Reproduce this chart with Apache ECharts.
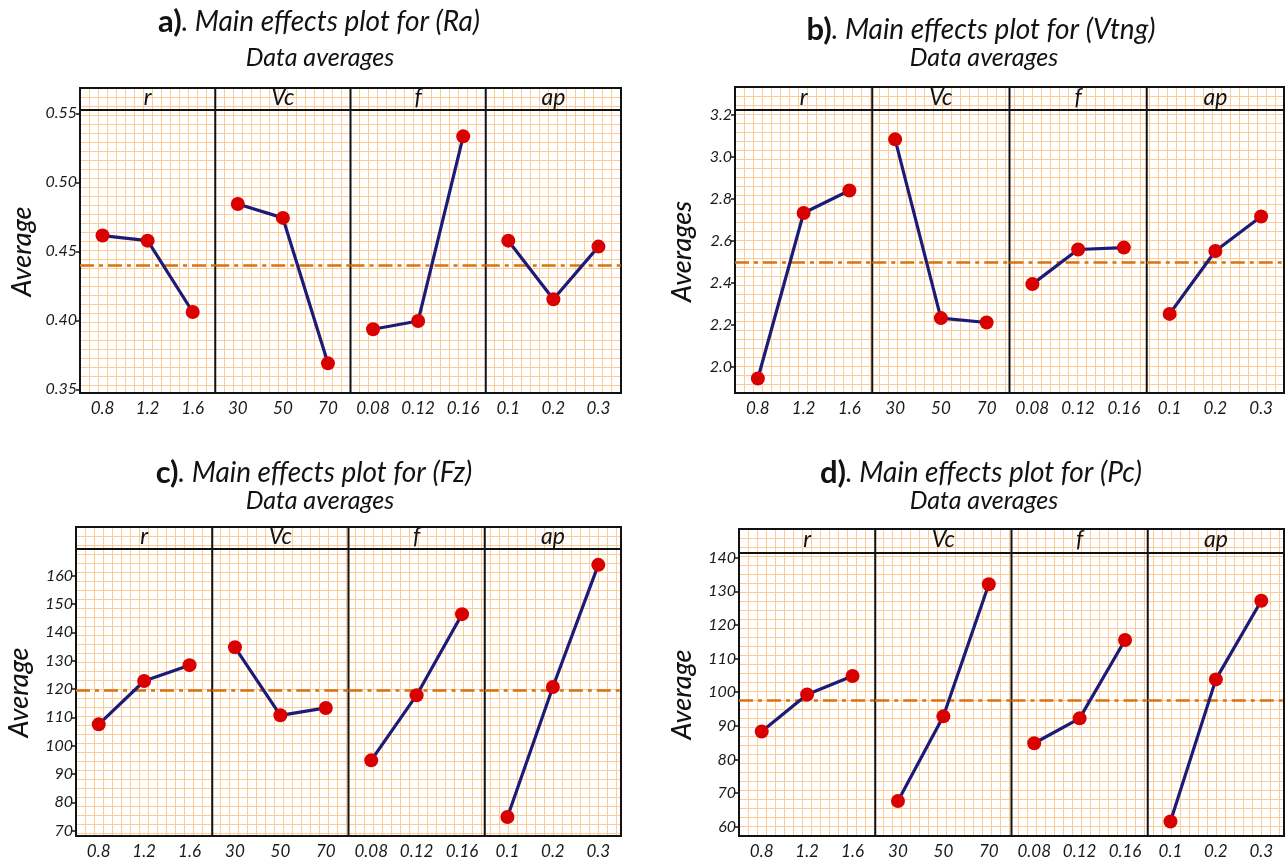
<!DOCTYPE html>
<html>
<head>
<meta charset="utf-8">
<script src="https://cdn.jsdelivr.net/npm/echarts@6/dist/echarts.min.js"></script>
<style>
  html, body { margin: 0; padding: 0; background: #ffffff; }
  #chart { width: 1287px; height: 861px; }
</style>
</head>
<body>
<div id="chart"></div>
<script>
// ---- data -------------------------------------------------------------
const factorNames = ['r', 'Vc', 'f', 'ap'];
const rLevels  = ['0.8', '1.2', '1.6'];
const vcLevels = ['30', '50', '70'];
const fLevels  = ['0.08', '0.12', '0.16'];
const apLevels = ['0.1', '0.2', '0.3'];

// level averages, three per factor in the order r, Vc, f, ap
const raAverages   = [0.4614, 0.4577, 0.4060, 0.4843, 0.4742, 0.3688, 0.3935, 0.3995, 0.5333, 0.4577, 0.4152, 0.4534];
const vtngAverages = [1.944, 2.733, 2.840, 3.084, 2.232, 2.211, 2.394, 2.559, 2.568, 2.252, 2.552, 2.716];
const fzAverages   = [107.5, 122.8, 128.4, 134.7, 110.7, 113.3, 94.8, 117.8, 146.4, 74.8, 120.7, 163.8];
const pcAverages   = [88.3, 99.3, 104.8, 67.6, 92.8, 132.1, 84.8, 92.2, 115.5, 61.5, 103.8, 127.2];

// grand means (reference lines)
const raMean = 0.4418;
const vtngMean = 2.505;
const fzMean = 119.7;
const pcMean = 97.5;

// y tick labels
const raTicks   = [0.35, 0.40, 0.45, 0.50, 0.55];
const vtngTicks = [2.0, 2.2, 2.4, 2.6, 2.8, 3.0, 3.2];
const fzTicks   = [70, 80, 90, 100, 110, 120, 130, 140, 150, 160];
const pcTicks   = [60, 70, 80, 90, 100, 110, 120, 130, 140];

const levelSets = [rLevels, vcLevels, fLevels, apLevels];

// ---- layout & style ---------------------------------------------------
const FONT = 'Lato, "Open Sans", sans-serif';
const INK = '#121212';
const PAPER_LINE = '#fbcb98';
const CELL = 9;
const LINE_COLOR = '#1c1c78';
const DOT_COLOR = '#d90000';
const MEAN_COLOR = '#d9720c';

const panels = [
  { tag: 'a)', response: 'Ra',   yName: 'Average',  values: raAverages,   mean: raMean,   ticks: raTicks,   dec: 2,
    left: 80,  right: 621,  hTop: 88,  hBot: 110, bottom: 393, yMin: 0.3473, yMax: 0.5524, nameGap: 44,
    titleX: 319, titleY: 22, subX: 320, subY: 58 },
  { tag: 'b)', response: 'Vtng', yName: 'Averages', values: vtngAverages, mean: vtngMean, ticks: vtngTicks, dec: 1,
    left: 735, right: 1284, hTop: 87,  hBot: 110, bottom: 393, yMin: 1.875, yMax: 3.224, nameGap: 39,
    titleX: 981, titleY: 30, subX: 984, subY: 58 },
  { tag: 'c)', response: 'Fz',   yName: 'Average',  values: fzAverages,   mean: fzMean,   ticks: fzTicks,   dec: 0,
    left: 76,  right: 621,  hTop: 527, hBot: 549, bottom: 836, yMin: 68.1, yMax: 169.4, nameGap: 43,
    titleX: 314, titleY: 473, subX: 320, subY: 501 },
  { tag: 'd)', response: 'Pc',   yName: 'Average',  values: pcAverages,   mean: pcMean,   ticks: pcTicks,   dec: 0,
    left: 739, right: 1284, hTop: 529, hBot: 553, bottom: 836, yMin: 57.2, yMax: 141.4, nameGap: 43,
    titleX: 981, titleY: 473, subX: 984, subY: 501 }
];

const grids = [], xAxes = [], yAxes = [], series = [], titles = [], graphics = [];

panels.forEach(function (p) {
  const width = p.right - p.left;
  const facetW = width / 4;

  // graph-paper background covering plot and strip
  const bgIndex = grids.length;
  grids.push({ left: p.left, top: p.hTop, width: width, height: p.bottom - p.hTop, z: 0 });
  xAxes.push({
    type: 'value', gridIndex: bgIndex, min: 0, max: width / CELL, interval: 1,
    axisLine: { show: false }, axisTick: { show: false }, axisLabel: { show: false },
    splitLine: { show: true, lineStyle: { color: PAPER_LINE, width: 1 } }, z: 0
  });
  yAxes.push({
    type: 'value', gridIndex: bgIndex, min: 0, max: (p.bottom - p.hTop) / CELL, interval: 1, inverse: true,
    axisLine: { show: false }, axisTick: { show: false }, axisLabel: { show: false },
    splitLine: { show: true, lineStyle: { color: PAPER_LINE, width: 1 } }, z: 0
  });

  // one facet per factor
  for (let i = 0; i < 4; i++) {
    const gi = grids.length;
    const fx = p.left + i * facetW;
    grids.push({ left: fx, top: p.hBot, width: facetW, height: p.bottom - p.hBot });
    xAxes.push({
      type: 'category', gridIndex: gi, data: levelSets[i], boundaryGap: true,
      axisLine: { show: false }, axisTick: { show: false },
      axisLabel: { margin: 7, color: '#1a1a1a', fontFamily: FONT, fontStyle: 'italic', fontSize: 17 },
      splitLine: { show: false }
    });
    const yAx = {
      type: 'value', gridIndex: gi, min: p.yMin, max: p.yMax,
      splitLine: { show: false }
    };
    if (i === 0) {
      Object.assign(yAx, {
        name: p.yName, nameLocation: 'middle', nameGap: p.nameGap,
        nameTextStyle: { fontFamily: FONT, fontStyle: 'italic', fontWeight: 500, fontSize: 27, color: INK },
        axisLine: { show: false },
        axisTick: { show: true, customValues: p.ticks, length: 4, lineStyle: { color: INK, width: 1.5 } },
        axisLabel: {
          customValues: p.ticks, margin: 3, color: '#1a1a1a', fontFamily: FONT, fontStyle: 'italic', fontSize: 16,
          formatter: function (v) { return Number(v).toFixed(p.dec); }
        }
      });
    } else {
      Object.assign(yAx, { axisLine: { show: false }, axisTick: { show: false }, axisLabel: { show: false } });
    }
    yAxes.push(yAx);

    series.push({
      type: 'line', xAxisIndex: gi, yAxisIndex: gi,
      data: p.values.slice(i * 3, i * 3 + 3),
      symbol: 'circle', symbolSize: 14,
      itemStyle: { color: DOT_COLOR },
      lineStyle: { color: LINE_COLOR, width: 3.2 },
      emphasis: { disabled: true },
      z: 5,
      markLine: {
        silent: true, symbol: 'none', label: { show: false },
        lineStyle: { color: MEAN_COLOR, width: 2.6, type: [14, 5, 4, 5] },
        emphasis: { disabled: true },
        data: [{ yAxis: p.mean }]
      }
    });

    // strip label
    titles.push({
      text: factorNames[i], left: fx + facetW / 2, top: (p.hTop + p.hBot) / 2 - 1,
      textAlign: 'center', textVerticalAlign: 'middle', padding: 0,
      textStyle: { fontFamily: FONT, fontStyle: 'italic', fontWeight: 'normal', fontSize: 23, color: INK }
    });

    if (i > 0) {
      graphics.push({ type: 'line', z: 1, shape: { x1: fx, y1: p.hTop, x2: fx, y2: p.bottom },
        style: { stroke: INK, lineWidth: 2 } });
    }
  }

  // frame and strip separator
  graphics.push({ type: 'rect', z: 1, shape: { x: p.left, y: p.hTop, width: width, height: p.bottom - p.hTop },
    style: { fill: 'none', stroke: INK, lineWidth: 2 } });
  graphics.push({ type: 'line', z: 1, shape: { x1: p.left, y1: p.hBot, x2: p.right, y2: p.hBot },
    style: { stroke: INK, lineWidth: 2 } });

  titles.push({
    text: '{b|' + p.tag + '}{i|. Main effects plot for (' + p.response + ')}',
    left: p.titleX, top: p.titleY, textAlign: 'center', textVerticalAlign: 'middle', padding: 0,
    textStyle: {
      fontWeight: 'normal',
      rich: {
        b: { fontFamily: FONT, fontWeight: 'bold', fontSize: 31, color: INK },
        i: { fontFamily: FONT, fontStyle: 'italic', fontWeight: 'normal', fontSize: 28, color: INK }
      }
    }
  });
  titles.push({
    text: 'Data averages', left: p.subX, top: p.subY, textAlign: 'center', textVerticalAlign: 'middle', padding: 0,
    textStyle: { fontFamily: FONT, fontStyle: 'italic', fontWeight: 'normal', fontSize: 25, color: INK }
  });
});

const chart = echarts.init(document.getElementById('chart'), null, { renderer: 'canvas' });
chart.setOption({
  animation: false,
  backgroundColor: '#ffffff',
  title: titles,
  grid: grids,
  xAxis: xAxes,
  yAxis: yAxes,
  series: series,
  graphic: graphics
});
</script>
</body>
</html>
